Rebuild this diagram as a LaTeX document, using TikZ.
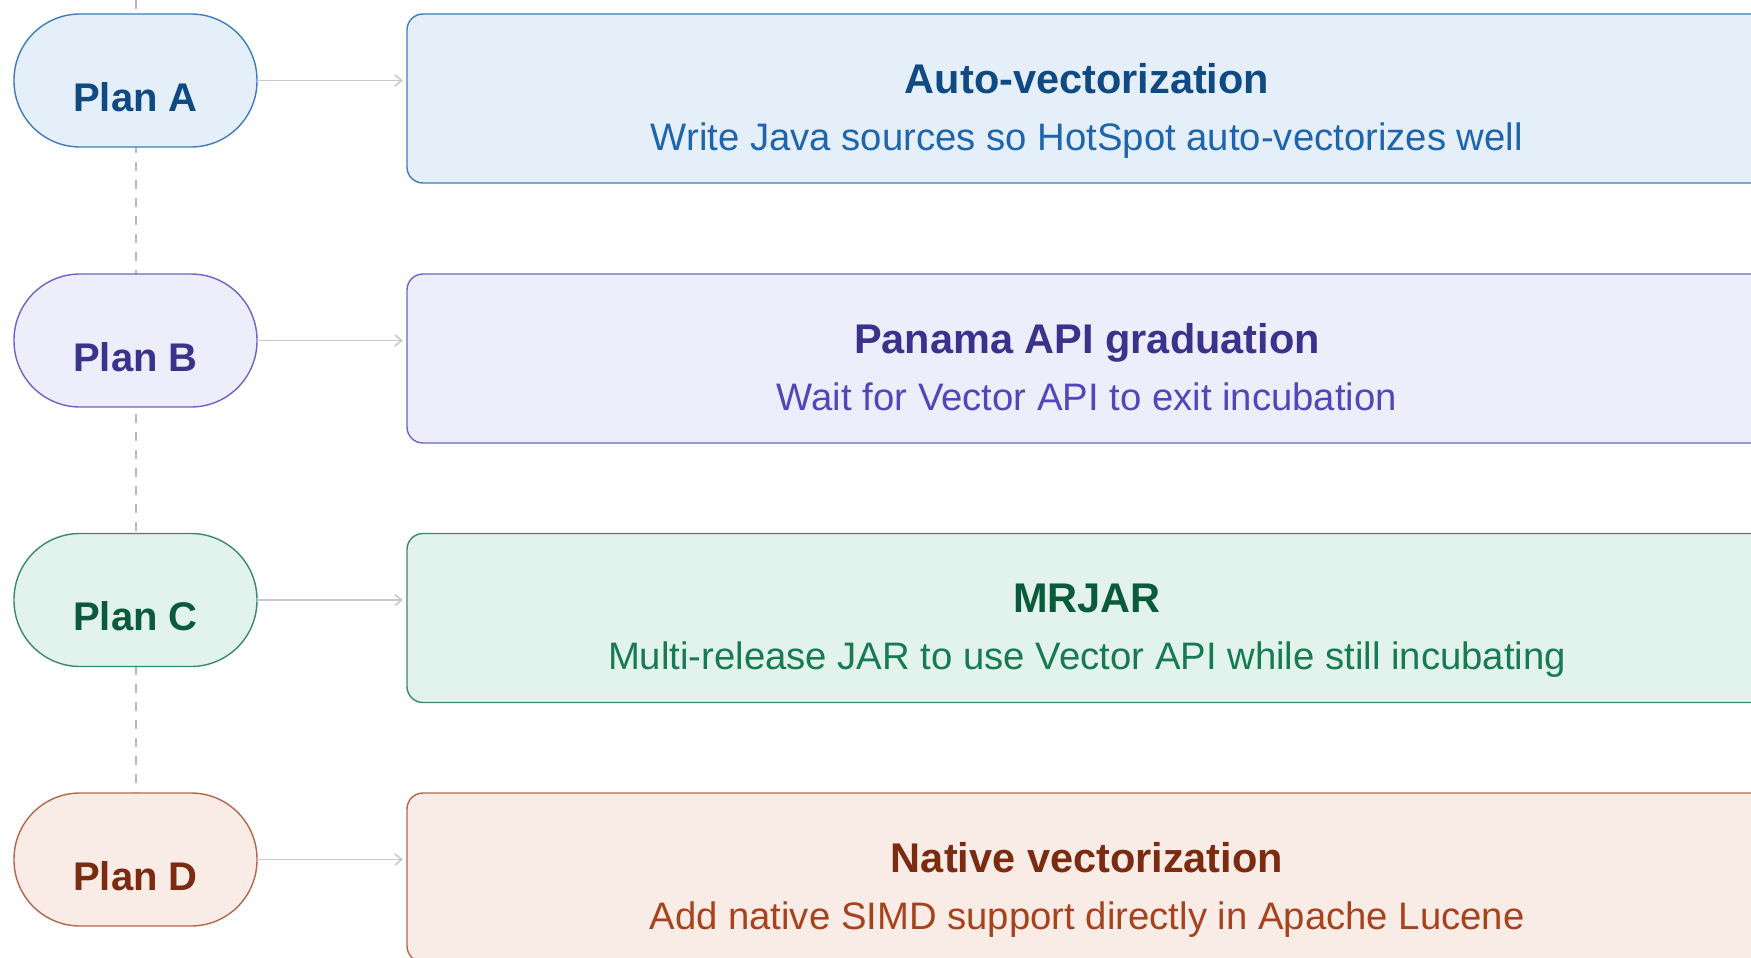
\documentclass[tikz,border=0pt]{standalone}
\usepackage{fontspec}
\setmainfont{Liberation Sans}
\usetikzlibrary{arrows.meta}
\pgfdeclarelayer{background}
\pgfsetlayers{background,main}
\definecolor{Afill}{HTML}{E5EFFA}\definecolor{Aborder}{HTML}{3F7CBF}\definecolor{Atitle}{HTML}{0F4A82}\definecolor{Asub}{HTML}{1E65AD}
\definecolor{Bfill}{HTML}{EEEDFC}\definecolor{Bborder}{HTML}{6D64C8}\definecolor{Btitle}{HTML}{3A338C}\definecolor{Bsub}{HTML}{5147B9}
\definecolor{Cfill}{HTML}{E1F3EC}\definecolor{Cborder}{HTML}{3A8A68}\definecolor{Ctitle}{HTML}{0C5A3E}\definecolor{Csub}{HTML}{177A52}
\definecolor{Dfill}{HTML}{F9ECE6}\definecolor{Dborder}{HTML}{B4674B}\definecolor{Dtitle}{HTML}{7A2B10}\definecolor{Dsub}{HTML}{A6431D}
\definecolor{linkgray}{HTML}{C9C9C9}
\definecolor{spinegray}{HTML}{B8B8B8}
\newcommand{\planrow}[6]{%
  \node[pill, draw=#6border, fill=#6fill] (p#1) at (135.5,#2+66.5) {};
  \node[plantext, text=#6title] (pl#1) at (135.5,#2+97) {Plan #3};
  \node[card, draw=#6border, fill=#6fill] (c#1) at (1087,#2+84.5) {};
  \node[titletext, text=#6title] (t#1) at (1087,#2+79) {#4};
  \node[subtext, text=#6sub] (s#1) at (1087,#2+136) {#5};
  \draw[link] (p#1.east) -- (p#1.east -| c#1.west);
}
\begin{document}
\begin{tikzpicture}[x=1pt,y=-1pt,
  pill/.style={line width=1.4pt, rounded corners=66pt, minimum width=243pt, minimum height=133pt, inner sep=0pt, outer sep=0pt},
  card/.style={line width=1.4pt, rounded corners=16pt, minimum width=1360pt, minimum height=169pt, inner sep=0pt, outer sep=0pt},
  plantext/.style={anchor=base, inner sep=0pt, font=\fontsize{40}{48}\selectfont\bfseries},
  titletext/.style={anchor=base, inner sep=0pt, font=\fontsize{41.5}{49}\selectfont\bfseries},
  subtext/.style={anchor=base, inner sep=0pt, font=\fontsize{38.3}{45}\selectfont},
  link/.style={draw=linkgray, line width=1.5pt, shorten >=4pt, -{Straight Barb[length=7pt,width=11pt,line width=1.5pt]}},
  spine/.style={draw=spinegray, line width=2pt, dash pattern=on 9pt off 9pt}]
\useasboundingbox (0,0) rectangle (1751,958);
\clip (0,0) rectangle (1751,958);
\coordinate (spinetop) at (135.5,0);
\planrow{A}{14}{A}{Auto-vectorization}{Write Java sources so HotSpot auto-vectorizes well}{A}
\planrow{B}{274}{B}{Panama API graduation}{Wait for Vector API to exit incubation}{B}
\planrow{C}{533.5}{C}{MRJAR}{Multi-release JAR to use Vector API while still incubating}{C}
\planrow{D}{793}{D}{Native vectorization}{Add native SIMD support directly in Apache Lucene}{D}
\begin{pgfonlayer}{background}
  \draw[spine] (spinetop) -- (pD.north);
\end{pgfonlayer}
\end{tikzpicture}
\end{document}
